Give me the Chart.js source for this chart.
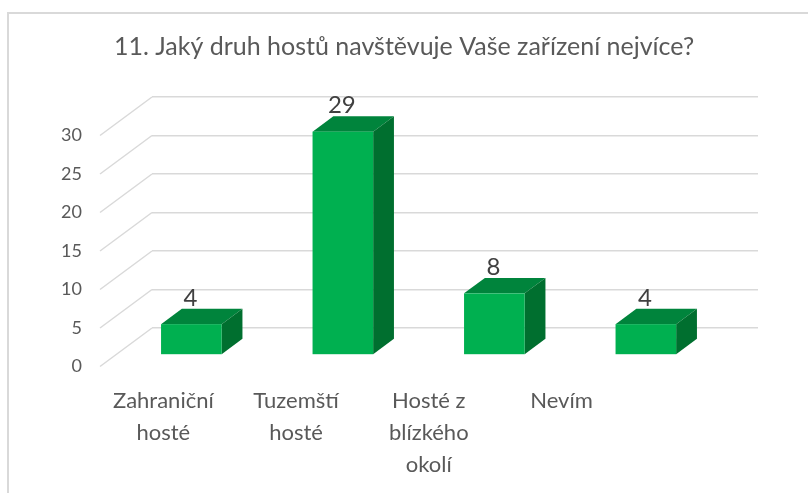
<!DOCTYPE html>
<html>
<head>
<meta charset="utf-8">
<script src="https://cdn.jsdelivr.net/npm/chart.js@4"></script>
<style>
  body { margin: 0; background: #fff; }
  #wrap { position: relative; width: 808px; height: 493px; overflow: hidden; }
  #frame { position: absolute; left: 7px; top: 12px; width: 900px; height: 600px; border: 2px solid #d9d9d9; }
  canvas { position: absolute; left: 0; top: 0; }
</style>
</head>
<body>
<div id="wrap">
  <div id="frame"></div>
  <canvas id="guestChart" width="808" height="493"></canvas>
</div>
<script>
// Survey answers: which guests visit the facility most
const categories = [
    ['Zahraniční', 'hosté'],
    ['Tuzemští', 'hosté'],
    ['Hosté z', 'blízkého', 'okolí'],
    ['Nevím']
];
const guestCounts = [4, 29, 8, 4];
const axisTicks = [0, 5, 10, 15, 20, 25, 30];

// 3D look: offset from back wall to the front edge of the floor
const DEPTH_X = -52;
const DEPTH_Y = 38.5;
const BAR_FRONT = 0.70;
const BAR_BACK = 0.30;

const FRONT_COLOR = '#00b050';
const TOP_COLOR = '#00843c';
const SIDE_COLOR = '#006f2f';
const TEXT_COLOR = '#595959';
const FONT = 'Lato, "Open Sans", sans-serif';

function fillPoly(ctx, pts, color) {
    ctx.beginPath();
    ctx.moveTo(pts[0][0], pts[0][1]);
    pts.slice(1).forEach(p => ctx.lineTo(p[0], p[1]));
    ctx.closePath();
    ctx.fillStyle = color;
    ctx.fill();
}

const box3d = {
    id: 'box3d',
    beforeDatasetsDraw(chart) {
        // side wall grid lines running towards the viewer
        const ctx = chart.ctx;
        const yScale = chart.scales.y;
        const left = chart.chartArea.left;
        ctx.save();
        ctx.strokeStyle = '#d9d9d9';
        ctx.lineWidth = 1.5;
        yScale.ticks.forEach(t => {
            const py = yScale.getPixelForValue(t.value);
            ctx.beginPath();
            ctx.moveTo(left, py);
            ctx.lineTo(left + DEPTH_X, py + DEPTH_Y);
            ctx.stroke();
        });
        ctx.restore();
    },
    afterDatasetsDraw(chart) {
        const ctx = chart.ctx;
        const left = chart.chartArea.left;
        const meta = chart.getDatasetMeta(0);
        const fx = DEPTH_X * BAR_FRONT, fy = DEPTH_Y * BAR_FRONT;
        const bx = DEPTH_X * BAR_BACK, by = DEPTH_Y * BAR_BACK;
        ctx.save();
        meta.data.forEach((bar, i) => {
            const half = bar.width / 2;
            const l = bar.x - half, r = bar.x + half;
            const top = bar.y, base = bar.base;

            fillPoly(ctx, [[l + fx, top + fy], [r + fx, top + fy], [r + bx, top + by], [l + bx, top + by]], TOP_COLOR);
            fillPoly(ctx, [[r + fx, top + fy], [r + bx, top + by], [r + bx, base + by], [r + fx, base + fy]], SIDE_COLOR);
            ctx.fillStyle = FRONT_COLOR;
            ctx.fillRect(l + fx, top + fy, r - l, base - top);

            // value label above the box
            ctx.fillStyle = '#404040';
            ctx.font = '24px ' + FONT;
            ctx.textAlign = 'center';
            ctx.textBaseline = 'alphabetic';
            ctx.fillText(String(guestCounts[i]), bar.x + fx - 1, top + by - 3);

            // category label along the front edge
            const lx = left + DEPTH_X + (bar.x - left) * 0.876 - 3;
            ctx.fillStyle = TEXT_COLOR;
            ctx.font = '22px ' + FONT;
            ctx.textBaseline = 'middle';
            categories[i].forEach((line, k) => {
                ctx.fillText(line, lx, 401 + k * 32);
            });
        });
        ctx.restore();
    }
};

new Chart(document.getElementById('guestChart'), {
    type: 'bar',
    data: {
        labels: categories.map(c => c.join(' ')),
        datasets: [{
            data: guestCounts,
            backgroundColor: 'rgba(0,0,0,0)',
            borderWidth: 0,
            barPercentage: 0.4,
            categoryPercentage: 1.0
        }]
    },
    options: {
        responsive: false,
        animation: false,
        layout: { padding: 0 },
        plugins: {
            legend: { display: false },
            tooltip: { enabled: false },
            title: {
                display: true,
                text: '11. Jaký druh hostů navštěvuje Vaše zařízení nejvíce?',
                color: TEXT_COLOR,
                font: { family: FONT, size: 25, weight: 'normal' },
                padding: { top: 32, bottom: 35 }
            }
        },
        scales: {
            x: {
                grid: { display: false },
                border: { display: false },
                ticks: { display: false },
                afterFit(scale) { scale.height = 165; }
            },
            y: {
                min: 0,
                max: 30,
                afterBuildTicks(scale) { scale.ticks = axisTicks.map(v => ({ value: v })); },
                afterFit(scale) { scale.width = 152; },
                grid: { color: '#d9d9d9', lineWidth: 1.5, drawTicks: false },
                border: { display: false },
                ticks: {
                    color: TEXT_COLOR,
                    font: { family: FONT, size: 18 },
                    padding: 70,
                    labelOffset: DEPTH_Y
                }
            },
            // empty margin on the right of the back wall
            yRight: {
                position: 'right',
                display: true,
                grid: { display: false },
                border: { display: false },
                ticks: { display: false },
                afterFit(scale) { scale.width = 50; }
            }
        }
    },
    plugins: [box3d]
});
</script>
</body>
</html>
